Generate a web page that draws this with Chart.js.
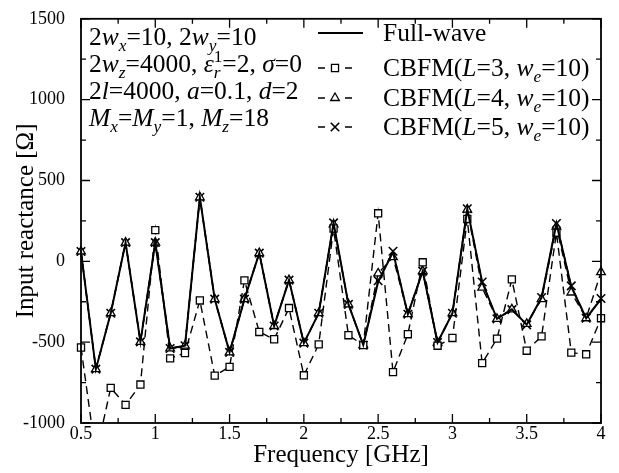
<!DOCTYPE html>
<html>
<head>
<meta charset="utf-8">
<script src="https://cdn.jsdelivr.net/npm/chart.js@4/dist/chart.umd.min.js"></script>
<style>
  body { margin: 0; background: #fff; }
</style>
</head>
<body>
<canvas id="chart" width="619" height="473"></canvas>
<script>
// frequency samples [GHz]
const freqs = [0.5, 0.6, 0.7, 0.8, 0.9, 1.0, 1.1, 1.2, 1.3, 1.4, 1.5, 1.6, 1.7, 1.8, 1.9, 2.0, 2.1, 2.2,
  2.3, 2.4, 2.5, 2.6, 2.7, 2.8, 2.9, 3.0, 3.1, 3.2, 3.3, 3.4, 3.5, 3.6, 3.7, 3.8, 3.9, 4.0];

// input reactance [ohm]
const fullWave = [61, -667, -321, 116, -498, 116, -539, -522, 396, -234, -563, -234, 51, -400, -116, -506, -321, 238,
  -266, -518, -126, 57, -327, -61, -502, -321, 325, -128, -356, -297, -392, -224, 234, -157, -352, -234];
const cbfmL3 = [-533, -1200, -783, -888, -762, 193, -600, -567, -242, -707, -653, -118, -437, -482, -289, -705, -514, 203,
  -457, -518, 297, -685, -451, -6, -522, -474, 262, -630, -478, -112, -553, -464, 177, -565, -575, -352];
const cbfmL4 = [61, -667, -321, 116, -498, 116, -539, -522, 396, -234, -563, -234, 51, -400, -116, -506, -321, 228,
  -266, -518, -75, 26, -327, -61, -502, -321, 320, -163, -356, -297, -387, -234, 215, -193, -352, -67];
const cbfmL5 = [61, -667, -321, 116, -498, 116, -539, -522, 396, -234, -563, -234, 51, -400, -116, -506, -321, 238,
  -266, -518, -120, 62, -327, -61, -502, -321, 325, -128, -356, -299, -393, -224, 234, -152, -352, -230];

const xTicks = [0.5, 1, 1.5, 2, 2.5, 3, 3.5, 4];
const xTickLabels = ['0.5', '1', '1.5', '2', '2.5', '3', '3.5', '4'];
const yTicks = [-1000, -500, 0, 500, 1000, 1500];
const yTickLabels = ['-1000', '-500', '0', '500', '1000', '1500'];

const SERIF = '"Liberation Serif", "Times New Roman", serif';

// rich text parts: [text, style]  i = italic, s = subscript, ^ = superscript, k = don't advance
const paramLines = [
  [['2'], ['w', 'i'], ['x', 'is'], ['=10, 2'], ['w', 'i'], ['y', 'is'], ['=10']],
  [['2'], ['w', 'i'], ['z', 'is'], ['=4000, '], ['ε', 'i'], ['r', 'isk'], ['1', '^'], ['=2, '], ['σ', 'i'], ['=0']],
  [['2'], ['l', 'i'], ['=4000, '], ['a', 'i'], ['=0.1, '], ['d', 'i'], ['=2']],
  [['M', 'i'], ['x', 'is'], ['='], ['M', 'i'], ['y', 'is'], ['=1, '], ['M', 'i'], ['z', 'is'], ['=18']]
];
const legendLines = [
  [['Full-wave']],
  [['CBFM('], ['L', 'i'], ['=3, '], ['w', 'i'], ['e', 'is'], ['=10)']],
  [['CBFM('], ['L', 'i'], ['=4, '], ['w', 'i'], ['e', 'is'], ['=10)']],
  [['CBFM('], ['L', 'i'], ['=5, '], ['w', 'i'], ['e', 'is'], ['=10)']]
];

function toPoints(values) {
  return freqs.map((f, i) => ({ x: f, y: values[i] }));
}

function richText(ctx, x, y, parts, size) {
  let cx = x;
  for (const [t, st = ''] of parts) {
    const small = st.includes('s') || st.includes('^');
    const fs = small ? size * 0.68 : size;
    ctx.font = (st.includes('i') ? 'italic ' : '') + fs + 'px ' + SERIF;
    const dy = st.includes('s') ? size * 0.22 : st.includes('^') ? -size * 0.4 : 0;
    ctx.fillText(t, cx, y + dy);
    if (!st.includes('k')) cx += ctx.measureText(t).width;
  }
}

function marker(ctx, style, x, y, r) {
  ctx.beginPath();
  if (style === 'rect') {
    const s = r * Math.SQRT1_2;
    ctx.rect(x - s, y - s, 2 * s, 2 * s);
    ctx.fillStyle = '#fff';
    ctx.fill();
  } else if (style === 'triangle') {
    const w = r * Math.sqrt(3) / 2;
    ctx.moveTo(x, y - r);
    ctx.lineTo(x - w, y + r / 2);
    ctx.lineTo(x + w, y + r / 2);
    ctx.closePath();
    ctx.fillStyle = '#fff';
    ctx.fill();
  } else if (style === 'crossRot') {
    const s = r * Math.SQRT1_2;
    ctx.moveTo(x - s, y - s); ctx.lineTo(x + s, y + s);
    ctx.moveTo(x + s, y - s); ctx.lineTo(x - s, y + s);
  }
  ctx.stroke();
}

const framePlugin = {
  id: 'frame',
  afterDatasetsDraw(chart) {
    const { ctx, chartArea: a, scales: { x, y } } = chart;
    ctx.save();
    ctx.strokeStyle = '#000';
    ctx.lineWidth = 1.3;
    ctx.beginPath();
    for (let i = 0; i <= 14; i++) {
      const px = x.getPixelForValue(0.5 + i * 0.25);
      const len = i % 2 === 0 ? 9 : 5;
      ctx.moveTo(px, a.bottom); ctx.lineTo(px, a.bottom - len);
      ctx.moveTo(px, a.top); ctx.lineTo(px, a.top + len);
    }
    for (let i = 0; i <= 10; i++) {
      const py = y.getPixelForValue(-1000 + i * 250);
      const len = i % 2 === 0 ? 9 : 5;
      ctx.moveTo(a.left, py); ctx.lineTo(a.left + len, py);
      ctx.moveTo(a.right, py); ctx.lineTo(a.right - len, py);
    }
    ctx.stroke();
    ctx.lineWidth = 1.8;
    ctx.strokeRect(a.left, a.top, a.right - a.left, a.bottom - a.top);
    ctx.restore();
  },
  afterDraw(chart) {
    const ctx = chart.ctx;
    ctx.save();
    ctx.fillStyle = '#000';
    ctx.textBaseline = 'alphabetic';
    const paramBase = [45, 72, 99, 126];
    paramLines.forEach((parts, i) => richText(ctx, 89, paramBase[i], parts, 25.5));

    const rowY = [33, 68, 98, 127];
    chart.data.datasets.forEach((ds, i) => {
      const yy = rowY[i];
      ctx.strokeStyle = '#000';
      ctx.lineWidth = ds.borderWidth;
      ctx.setLineDash([]);
      ctx.beginPath();
      if (i === 0) {
        ctx.moveTo(318, yy); ctx.lineTo(363, yy);
      } else {
        ctx.moveTo(318, yy); ctx.lineTo(325, yy);
        ctx.moveTo(345, yy); ctx.lineTo(352, yy);
      }
      ctx.stroke();
      if (ds.pointRadius > 0) {
        ctx.lineWidth = ds.pointBorderWidth;
        marker(ctx, ds.pointStyle, 335, yy, ds.pointRadius);
      }
      ctx.fillStyle = '#000';
      richText(ctx, 383, yy + 8, legendLines[i], 25.5);
    });
    ctx.restore();
  }
};

const clipBox = { left: 10, right: 10, top: 0, bottom: 0 };

new Chart(document.getElementById('chart'), {
  type: 'line',
  data: {
    datasets: [
      {
        label: 'Full-wave',
        data: toPoints(fullWave),
        borderColor: '#000',
        borderWidth: 2,
        pointRadius: 0,
        clip: clipBox
      },
      {
        label: 'CBFM(L=3, we=10)',
        data: toPoints(cbfmL3),
        borderColor: '#000',
        borderWidth: 1.4,
        borderDash: [8, 5],
        pointStyle: 'rect',
        pointRadius: 5,
        pointBorderWidth: 1.3,
        pointBackgroundColor: '#fff',
        pointBorderColor: '#000',
        clip: clipBox
      },
      {
        label: 'CBFM(L=4, we=10)',
        data: toPoints(cbfmL4),
        borderColor: '#000',
        borderWidth: 1.4,
        borderDash: [8, 5],
        pointStyle: 'triangle',
        pointRadius: 5,
        pointBorderWidth: 1.3,
        pointBackgroundColor: '#fff',
        pointBorderColor: '#000',
        clip: clipBox
      },
      {
        label: 'CBFM(L=5, we=10)',
        data: toPoints(cbfmL5),
        borderColor: '#000',
        borderWidth: 1.4,
        borderDash: [8, 5],
        pointStyle: 'crossRot',
        pointRadius: 6,
        pointBorderWidth: 1.6,
        pointBorderColor: '#000',
        clip: clipBox
      }
    ]
  },
  options: {
    responsive: false,
    animation: false,
    layout: { padding: { top: 13, right: 18, left: 0, bottom: 0 } },
    plugins: { legend: { display: false }, tooltip: { enabled: false } },
    scales: {
      x: {
        type: 'linear',
        min: 0.5,
        max: 4,
        afterBuildTicks: s => { s.ticks = xTicks.map(v => ({ value: v })); },
        afterFit: s => { s.height = 50; },
        ticks: {
          color: '#000',
          font: { family: SERIF, size: 18 },
          padding: -8,
          maxRotation: 0,
          autoSkip: false,
          callback: (v) => xTickLabels[xTicks.indexOf(v)]
        },
        grid: { display: false },
        border: { display: false },
        title: {
          display: true,
          text: 'Frequency [GHz]',
          color: '#000',
          font: { family: SERIF, size: 25 },
          padding: { top: 0, bottom: 3 }
        }
      },
      y: {
        min: -1000,
        max: 1500,
        afterBuildTicks: s => { s.ticks = yTicks.map(v => ({ value: v })); },
        afterFit: s => { s.width = 81; },
        ticks: {
          color: '#000',
          font: { family: SERIF, size: 18 },
          padding: 8,
          autoSkip: false,
          callback: (v) => yTickLabels[yTicks.indexOf(v)]
        },
        grid: { display: false },
        border: { display: false },
        title: {
          display: true,
          text: 'Input reactance [Ω]',
          color: '#000',
          font: { family: SERIF, size: 25 },
          padding: { top: 11, bottom: 0 }
        }
      }
    }
  },
  plugins: [framePlugin]
});
</script>
</body>
</html>
